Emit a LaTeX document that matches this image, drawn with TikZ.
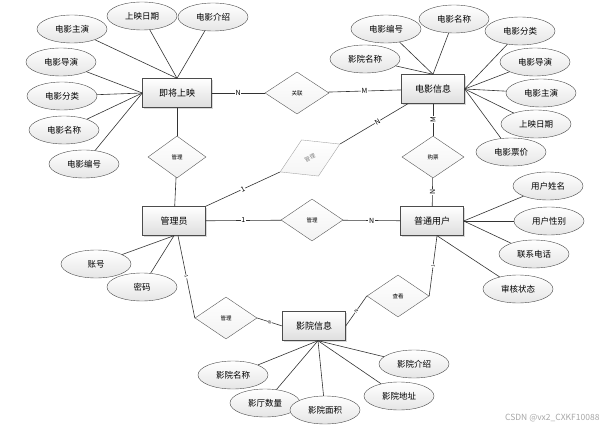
\documentclass[tikz,border=0pt]{standalone}
\usepackage{fontspec}
\setmainfont{Noto Sans CJK SC}
\usetikzlibrary{shapes.geometric,shadows}

\begin{document}
\begin{tikzpicture}[
    x=1pt, y=-1pt,
    entity/.style={draw=black!70, rectangle, minimum width=63pt, minimum height=29pt,
        top color=white, bottom color=black!13,
        drop shadow={opacity=0.3, shadow xshift=1.5pt, shadow yshift=-1.5pt},
        font=\fontsize{9}{9}\selectfont},
    attribute/.style={draw=black!70, ellipse, minimum width=70pt, minimum height=28pt,
        inner sep=0pt, top color=white, bottom color=black!10,
        font=\fontsize{8.5}{8.5}\selectfont},
    relation/.style={draw=black!65, diamond, minimum width=62pt, minimum height=42pt,
        inner sep=0pt, top color=white, bottom color=black!5,
        font=\fontsize{5.5}{5.5}\selectfont},
    card/.style={fill=white, inner sep=0.6pt, font=\fontsize{7}{7}\selectfont},
    small card/.style={fill=white, inner sep=0.3pt, sloped, font=\fontsize{4.5}{4.5}\selectfont},
    link/.style={draw=black!80, line width=0.6pt}
    ]

    \useasboundingbox (0,0) rectangle (607,430);

    % entities
    \node[entity, minimum width=69pt] (jjsy) at (177,93) {即将上映};
    \node[entity] (dyxx) at (433,89) {电影信息};
    \node[entity] (gly) at (174,221) {管理员};
    \node[entity] (ptyh) at (432,221) {普通用户};
    \node[entity] (yyxx) at (314,326) {影院信息};

    % relations
    \node[relation, minimum width=64pt] (gl) at (297,93) {关联};
    \node[relation, minimum width=58pt] (gl1) at (177,157) {管理};
    \node[relation, draw=black!35, top color=white, bottom color=black!4, text=black!50,
        minimum width=66pt, minimum height=40pt, rotate=25] (gl2) at (310,158) {管理};
    \node[relation] (gp) at (433,157) {购票};
    \node[relation] (gl3) at (312,220) {管理};
    \node[relation] (gl4) at (226,318) {管理};
    \node[relation] (ck) at (398,296) {查看};

    % attributes of jjsy
    \node[attribute] (a1) at (72,29) {电影主演};
    \node[attribute] (a2) at (142,16) {上映日期};
    \node[attribute] (a3) at (213,17) {电影介绍};
    \node[attribute] (a4) at (61,62) {电影导演};
    \node[attribute] (a5) at (62,96) {电影分类};
    \node[attribute] (a6) at (64,130) {电影名称};
    \node[attribute] (a7) at (84,164) {电影编号};

    % attributes of dyxx
    \node[attribute] (b1) at (386,29) {电影编号};
    \node[attribute] (b2) at (454,19) {电影名称};
    \node[attribute] (b3) at (520,31) {电影分类};
    \node[attribute] (b4) at (365,59) {影院名称};
    \node[attribute] (b5) at (535,62) {电影导演};
    \node[attribute] (b6) at (541,93) {电影主演};
    \node[attribute] (b7) at (536,124) {上映日期};
    \node[attribute] (b8) at (511,152) {电影票价};

    % attributes of ptyh
    \node[attribute] (c1) at (548,186) {用户姓名};
    \node[attribute] (c2) at (549,221) {用户性别};
    \node[attribute] (c3) at (534,254) {联系电话};
    \node[attribute] (c4) at (518,289) {审核状态};

    % attributes of gly
    \node[attribute] (d1) at (96,264) {账号};
    \node[attribute] (d2) at (142,287) {密码};

    % attributes of yyxx
    \node[attribute] (e1) at (233,375) {影院名称};
    \node[attribute] (e2) at (265,403) {影厅数量};
    \node[attribute] (e3) at (325,410) {影院面积};
    \node[attribute] (e4) at (399,396) {影院地址};
    \node[attribute] (e5) at (414,364) {影院介绍};

    % attribute lines
    \foreach \a in {a1,a2,a3} \draw[link] (\a) -- (jjsy.north);
    \foreach \a in {a4,a5,a6,a7} \draw[link] (\a) -- (jjsy.west);
    \foreach \a in {b1,b2,b4} \draw[link] (\a) -- (dyxx.north);
    \foreach \a in {b3,b5,b6,b7,b8} \draw[link] (\a) -- (dyxx.east);
    \foreach \a in {c1,c2,c3} \draw[link] (\a) -- (ptyh.east);
    \draw[link] (c4) -- ([xshift=5pt]ptyh.south);
    \foreach \a in {d1,d2} \draw[link] (\a) -- (gly.south);
    \foreach \a in {e1,e2,e3,e4,e5} \draw[link] (\a) -- ([xshift=4pt]yyxx.south);

    % relation lines
    \draw[link] (jjsy) -- node[card] {N} (gl);
    \draw[link] (gl) -- node[card] {M} (dyxx);
    \draw[link] (jjsy) -- (gl1);
    \draw[link] (gl1) -- (gly);
    \draw[link] (gly.north east) -- node[card, sloped] {1} (gl2.west);
    \draw[link] (gl2.east) -- node[card, sloped, pos=0.55] {N} ([xshift=-25pt]dyxx.south);
    \draw[link] (dyxx) -- node[card, rotate=90] {M} (gp);
    \draw[link] (gp) -- node[card, rotate=90] {N} (ptyh);
    \draw[link] (gly) -- node[card] {1} (gl3);
    \draw[link] (gl3) -- node[card] {N} (ptyh);
    \draw[link] ([xshift=4pt]gly.south) -- node[small card] {1} (gl4.west);
    \draw[link] (gl4.east) -- node[small card] {N} (yyxx.west);
    \draw[link] ([xshift=5pt]ptyh.south) -- node[small card] {1} (ck.east);
    \draw[link] (ck.west) -- node[small card] {N} (yyxx.east);

    % watermark
    \node[text=black!35, font=\fontsize{8.5}{8.5}\selectfont, anchor=east] (mark) at (603,418) {CSDN @vx2\_CXKF10088};

\end{tikzpicture}
\end{document}
